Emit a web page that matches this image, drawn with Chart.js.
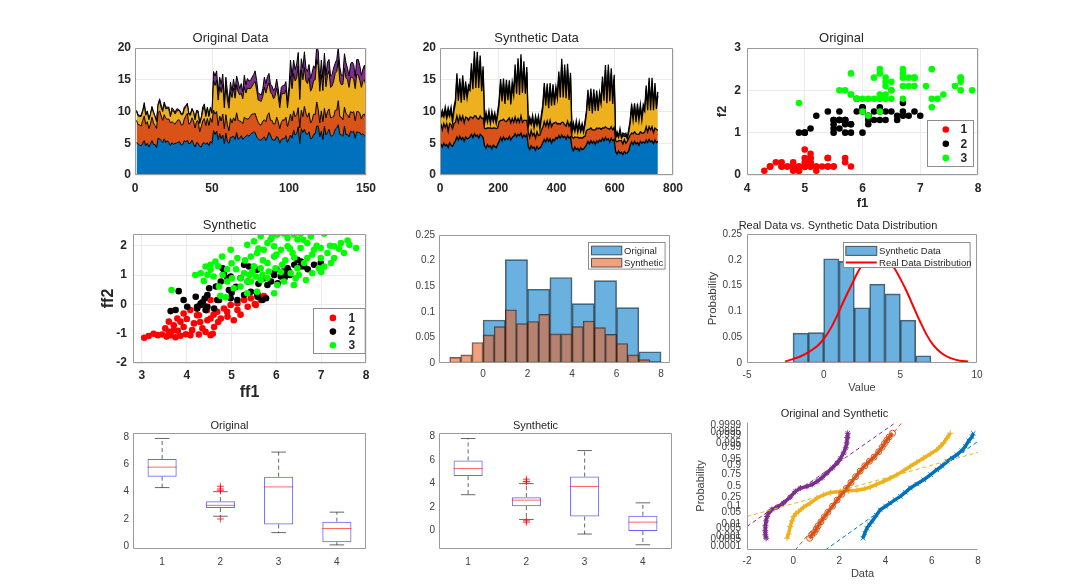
<!DOCTYPE html>
<html>
<head>
<meta charset="utf-8">
<script src="https://cdn.jsdelivr.net/npm/chart.js@4.4.1/dist/chart.umd.min.js"></script>
<style>
  html, body { margin: 0; padding: 0; background: #fff; }
  body { width: 1080px; height: 588px; position: relative; overflow: hidden; }
  canvas { position: absolute; }
</style>
</head>
<body>
<script>
// ---------- original data (150 samples, 4 features) ----------
const irisSepalLength = [
  5.1,4.9,4.7,4.6,5.0,5.4,4.6,5.0,4.4,4.9, 5.4,4.8,4.8,4.3,5.8,5.7,5.4,5.1,5.7,5.1,
  5.4,5.1,4.6,5.1,4.8,5.0,5.0,5.2,5.2,4.7, 4.8,5.4,5.2,5.5,4.9,5.0,5.5,4.9,4.4,5.1,
  5.0,4.5,4.4,5.0,5.1,4.8,5.1,4.6,5.3,5.0, 7.0,6.4,6.9,5.5,6.5,5.7,6.3,4.9,6.6,5.2,
  5.0,5.9,6.0,6.1,5.6,6.7,5.6,5.8,6.2,5.6, 5.9,6.1,6.3,6.1,6.4,6.6,6.8,6.7,6.0,5.7,
  5.5,5.5,5.8,6.0,5.4,6.0,6.7,6.3,5.6,5.5, 5.5,6.1,5.8,5.0,5.6,5.7,5.7,6.2,5.1,5.7,
  6.3,5.8,7.1,6.3,6.5,7.6,4.9,7.3,6.7,7.2, 6.5,6.4,6.8,5.7,5.8,6.4,6.5,7.7,7.7,6.0,
  6.9,5.6,7.7,6.3,6.7,7.2,6.2,6.1,6.4,7.2, 7.4,7.9,6.4,6.3,6.1,7.7,6.3,6.4,6.0,6.9,
  6.7,6.9,5.8,6.8,6.7,6.7,6.3,6.5,6.2,5.9];
const irisSepalWidth = [
  3.5,3.0,3.2,3.1,3.6,3.9,3.4,3.4,2.9,3.1, 3.7,3.4,3.0,3.0,4.0,4.4,3.9,3.5,3.8,3.8,
  3.4,3.7,3.6,3.3,3.4,3.0,3.4,3.5,3.4,3.2, 3.1,3.4,4.1,4.2,3.1,3.2,3.5,3.6,3.0,3.4,
  3.5,2.3,3.2,3.5,3.8,3.0,3.8,3.2,3.7,3.3, 3.2,3.2,3.1,2.3,2.8,2.8,3.3,2.4,2.9,2.7,
  2.0,3.0,2.2,2.9,2.9,3.1,3.0,2.7,2.2,2.5, 3.2,2.8,2.5,2.8,2.9,3.0,2.8,3.0,2.9,2.6,
  2.4,2.4,2.7,2.7,3.0,3.4,3.1,2.3,3.0,2.5, 2.6,3.0,2.6,2.3,2.7,3.0,2.9,2.9,2.5,2.8,
  3.3,2.7,3.0,2.9,3.0,3.0,2.5,2.9,2.5,3.6, 3.2,2.7,3.0,2.5,2.8,3.2,3.0,3.8,2.6,2.2,
  3.2,2.8,2.8,2.7,3.3,3.2,2.8,3.0,2.8,3.0, 2.8,3.8,2.8,2.8,2.6,3.0,3.4,3.1,3.0,3.1,
  3.1,3.1,2.7,3.2,3.3,3.0,2.5,3.0,3.4,3.0];
const irisPetalLength = [
  1.4,1.4,1.3,1.5,1.4,1.7,1.4,1.5,1.4,1.5, 1.5,1.6,1.4,1.1,1.2,1.5,1.3,1.4,1.7,1.5,
  1.7,1.5,1.0,1.7,1.9,1.6,1.6,1.5,1.4,1.6, 1.6,1.5,1.5,1.4,1.5,1.2,1.3,1.4,1.3,1.5,
  1.3,1.3,1.3,1.6,1.9,1.4,1.6,1.4,1.5,1.4, 4.7,4.5,4.9,4.0,4.6,4.5,4.7,3.3,4.6,3.9,
  3.5,4.2,4.0,4.7,3.6,4.4,4.5,4.1,4.5,3.9, 4.8,4.0,4.9,4.7,4.3,4.4,4.8,5.0,4.5,3.5,
  3.8,3.7,3.9,5.1,4.5,4.5,4.7,4.4,4.1,4.0, 4.4,4.6,4.0,3.3,4.2,4.2,4.2,4.3,3.0,4.1,
  6.0,5.1,5.9,5.6,5.8,6.6,4.5,6.3,5.8,6.1, 5.1,5.3,5.5,5.0,5.1,5.3,5.5,6.7,6.9,5.0,
  5.7,4.9,6.7,4.9,5.7,6.0,4.8,4.9,5.6,5.8, 6.1,6.4,5.6,5.1,5.6,6.1,5.6,5.5,4.8,5.4,
  5.6,5.1,5.1,5.9,5.7,5.2,5.0,5.2,5.4,5.1];
const irisPetalWidth = [
  0.2,0.2,0.2,0.2,0.2,0.4,0.3,0.2,0.2,0.1, 0.2,0.2,0.1,0.1,0.2,0.4,0.4,0.3,0.3,0.3,
  0.2,0.4,0.2,0.5,0.2,0.2,0.4,0.2,0.2,0.2, 0.2,0.4,0.1,0.2,0.2,0.2,0.2,0.1,0.2,0.2,
  0.3,0.3,0.2,0.6,0.4,0.3,0.2,0.2,0.2,0.2, 1.4,1.5,1.5,1.3,1.5,1.3,1.6,1.0,1.3,1.4,
  1.0,1.5,1.0,1.4,1.3,1.4,1.5,1.0,1.5,1.1, 1.8,1.3,1.5,1.2,1.3,1.4,1.4,1.7,1.5,1.0,
  1.1,1.0,1.2,1.6,1.5,1.6,1.5,1.3,1.3,1.3, 1.2,1.4,1.2,1.0,1.3,1.2,1.3,1.3,1.1,1.3,
  2.5,1.9,2.1,1.8,2.2,2.1,1.7,1.8,1.8,2.5, 2.0,1.9,2.1,2.0,2.4,2.3,1.8,2.2,2.3,1.5,
  2.3,2.0,2.0,1.8,2.1,1.8,1.8,1.8,2.1,1.6, 1.9,2.0,2.2,1.5,1.4,2.3,2.4,1.8,1.8,2.1,
  2.4,2.3,1.9,2.3,2.5,2.3,1.9,2.0,2.3,1.8];

// ---------- synthetic data, read every 5th sample of 750 ----------
const synthStep = 5;
const synthBlue = [
  4.9,4.4,5.0,4.6,4.8,4.3,5.1,4.7,4.5,5.0, 5.4,6.0,5.5,6.1,5.6,5.9,5.3,6.0,5.7,5.8,
  6.0,6.4,5.9,6.5,6.1,6.3,5.8,6.4,6.2,5.9, 4.6,4.2,4.8,4.4,4.6,4.1,4.7,4.5,4.3,4.8,
  5.3,5.9,5.4,6.0,5.5,5.8,5.6,6.1,5.5,5.9, 6.1,6.5,6.0,6.4,6.2,6.6,5.9,6.3,6.0,6.4,
  4.5,4.0,4.6,4.2,4.4,3.9,4.5,4.1,4.3,4.6, 5.1,5.6,5.2,5.8,5.3,5.7,5.0,5.6,5.4,5.9,
  5.7,6.2,5.8,6.3,5.9,6.1,5.6,6.2,5.8,6.0, 4.3,3.8,4.4,4.0,4.2,3.8,4.3,4.0,4.1,4.4,
  4.8,5.3,4.9,5.4,5.0,5.3,4.8,5.4,5.1,5.5, 5.3,5.8,5.4,5.9,5.5,5.7,5.2,5.8,5.4,5.6,
  3.7,3.3,3.8,3.4,3.6,3.2,3.7,3.4,3.5,3.8, 4.7,5.2,4.8,5.3,4.9,5.1,4.7,5.3,5.0,5.2,
  5.0,5.5,5.1,5.6,5.2,5.4,4.9,5.5,5.1,5.3];
const synthOrange = [
  3.2,2.7,3.1,2.9,3.3,2.6,3.0,3.2,2.8,3.1, 2.9,3.3,2.8,3.2,3.0,3.4,2.9,3.1,3.3,2.8,
  3.1,2.7,3.0,2.8,3.2,2.6,3.0,2.9,2.7,3.1, 2.7,3.1,2.6,3.0,2.8,3.2,2.7,2.9,3.0,2.6,
  3.1,2.7,3.2,2.8,3.0,2.6,3.1,2.9,2.7,3.0, 2.2,2.6,2.3,2.5,2.1,2.7,2.4,2.3,2.6,2.2,
  2.3,1.9,2.4,2.0,2.2,1.9,2.3,2.1,2.0,2.4, 2.4,2.8,2.5,2.7,2.3,2.9,2.6,2.5,2.8,2.4,
  2.3,1.9,2.2,2.0,2.4,1.8,2.1,2.3,1.9,2.2, 1.7,2.0,1.6,1.9,1.8,2.0,1.6,1.8,1.9,1.7,
  2.2,1.9,2.3,2.0,2.1,1.8,2.3,2.0,2.2,1.9, 1.9,1.6,2.0,1.7,1.9,1.6,2.0,1.8,1.7,1.9,
  1.7,1.9,1.6,2.0,1.8,1.7,1.9,1.6,1.8,2.0, 1.6,1.4,1.7,1.5,1.6,1.3,1.7,1.5,1.6,1.4,
  1.8,2.1,1.7,2.0,1.9,2.2,1.8,1.9,2.1,1.7];
const synthYellow = [
  0.9,2.4,1.0,2.6,0.8,2.9,1.1,2.2,1.0,2.0, 3.0,5.9,3.4,5.2,2.8,5.6,3.6,4.9,3.1,5.0,
  4.2,7.6,4.6,9.2,4.4,9.6,4.9,8.7,4.3,7.4, 0.8,2.0,0.9,2.2,0.7,2.1,1.0,1.9,0.8,2.0,
  2.8,5.8,3.0,5.6,2.7,5.9,3.1,5.3,2.9,5.0, 4.2,7.4,4.5,8.6,4.3,8.9,4.6,8.4,4.2,7.6,
  0.8,2.6,0.9,2.7,0.8,2.9,1.0,2.6,0.9,2.0, 3.0,5.4,3.2,5.3,2.9,5.2,3.3,5.6,2.8,5.0,
  4.0,7.4,4.2,9.1,3.9,8.7,4.4,8.2,4.1,7.2, 0.7,1.9,0.8,2.1,0.7,2.0,0.9,1.8,0.7,1.9,
  2.7,5.5,2.9,5.6,2.6,5.7,3.0,5.3,2.8,5.0, 4.0,7.3,4.3,8.9,3.9,9.2,4.4,8.4,4.1,7.6,
  0.4,1.2,0.5,1.4,0.4,1.3,0.5,1.2,0.4,1.0, 1.9,4.0,2.1,4.0,1.8,4.2,2.2,3.8,2.0,3.9,
  3.2,5.8,3.4,7.0,3.1,6.9,3.5,6.4,3.2,5.5];
const synthPurple = [
  0.4,0.7,0.3,0.6,0.5,0.8,0.4,0.6,0.3,0.7, 0.5,0.8,0.4,0.7,0.6,0.8,0.5,0.7,0.4,0.6,
  0.6,0.9,0.5,1.0,0.7,0.9,0.6,0.8,0.5,0.7, 0.3,0.6,0.4,0.5,0.3,0.6,0.4,0.5,0.3,0.6,
  0.5,0.7,0.4,0.8,0.5,0.7,0.4,0.6,0.5,0.7, 0.6,0.9,0.5,0.9,0.7,0.8,0.6,0.9,0.5,0.8,
  0.3,0.6,0.4,0.5,0.3,0.6,0.4,0.5,0.3,0.5, 0.5,0.7,0.4,0.6,0.5,0.7,0.4,0.6,0.5,0.6,
  0.6,0.8,0.5,0.9,0.6,0.8,0.5,0.8,0.6,0.7, 0.3,0.5,0.3,0.5,0.3,0.6,0.3,0.5,0.3,0.5,
  0.4,0.7,0.4,0.6,0.5,0.7,0.4,0.6,0.4,0.6, 0.6,0.8,0.5,0.8,0.6,0.9,0.5,0.8,0.6,0.7,
  0.2,0.4,0.2,0.5,0.2,0.4,0.3,0.4,0.2,0.4, 0.4,0.6,0.3,0.5,0.4,0.6,0.3,0.5,0.4,0.6,
  0.5,0.7,0.4,0.7,0.5,0.8,0.4,0.7,0.5,0.6];

// ---------- synthetic scatter (ff1, ff2) per class ----------
const synthClass1 = [[3.05,-1.14],[3.15,-1.08],[3.26,-1.0],[3.35,-1.05],[3.45,-1.03],[3.52,-0.82],[3.55,-1.1],[3.6,-0.94],[3.6,-0.59],[3.64,-1.05],[3.71,-0.71],[3.71,-0.88],[3.75,-1.12],[3.79,-0.48],[3.86,-1.07],[3.86,-0.59],[3.93,-0.31],[3.93,-0.77],[3.98,-1.02],[4.08,-0.19],[4.08,-1.05],[4.12,-0.88],[4.16,-0.65],[4.23,-0.14],[4.23,-0.37],[4.27,-1.03],[4.27,-0.37],[4.35,-0.82],[4.38,-0.02],[4.42,-0.94],[4.46,-0.54],[4.53,0.15],[4.53,-0.48],[4.53,-1.05],[4.58,-1.0],[4.61,-0.77],[4.68,-0.25],[4.76,-0.48],[4.83,-0.14],[4.91,-0.42],[4.98,-0.02],[5.05,-0.54],[5.13,0.03],[5.13,-0.19],[5.28,0.15],[5.36,-0.08],[5.43,0.21],[5.52,0.01],[5.54,-0.02],[5.58,0.32],[5.65,0.15],[5.72,0.28],[4.45,-0.2],[4.7,-0.6],[4.0,-0.5],[3.8,-0.9],[4.3,-0.6],[4.9,-0.25],[5.2,-0.35],[4.6,-0.35]];
const synthClass2 = [[3.64,-0.23],[3.75,-0.19],[3.82,0.45],[3.93,0.15],[4.01,-0.08],[4.2,0.26],[4.23,-0.14],[4.23,-0.08],[4.31,0.03],[4.31,-0.02],[4.35,0.07],[4.42,-0.19],[4.46,-0.08],[4.46,0.32],[4.5,0.55],[4.61,-0.14],[4.65,0.61],[4.68,0.15],[4.72,0.15],[4.76,0.78],[4.8,1.23],[4.83,1.06],[4.91,0.89],[4.94,0.49],[4.98,0.21],[4.98,0.95],[5.13,0.15],[5.28,0.32],[5.28,1.35],[5.36,0.78],[5.39,1.29],[5.43,0.43],[5.57,0.38],[5.57,1.18],[5.58,0.26],[5.69,0.15],[5.73,0.89],[5.77,0.21],[5.8,0.66],[5.88,0.78],[5.94,1.06],[5.95,1.0],[6.03,0.72],[6.1,0.95],[6.14,1.12],[6.18,0.89],[6.21,1.0],[6.25,1.23],[6.28,1.12],[6.4,1.35],[6.47,1.52],[6.54,1.29],[6.55,1.46],[6.62,1.29],[6.84,1.35],[6.99,1.41],[5.1,0.6],[5.6,0.7],[6.3,1.0],[4.4,0.2],[5.0,0.4],[6.0,1.2],[6.7,1.2],[5.2,0.9]];
const synthClass3 = [[3.66,0.49],[4.19,1.0],[4.31,1.06],[4.38,0.8],[4.42,1.29],[4.46,1.01],[4.53,1.18],[4.53,1.35],[4.6,0.95],[4.64,1.46],[4.72,0.61],[4.75,0.29],[4.79,1.63],[4.87,0.24],[4.9,0.78],[4.98,1.86],[5.01,0.89],[5.05,0.55],[5.13,1.58],[5.2,0.61],[5.2,0.89],[5.28,1.06],[5.35,2.03],[5.35,0.78],[5.35,0.38],[5.43,0.78],[5.43,1.63],[5.46,1.12],[5.5,2.15],[5.54,0.95],[5.57,1.75],[5.57,0.43],[5.65,2.32],[5.65,0.83],[5.65,1.23],[5.69,1.01],[5.72,1.86],[5.8,1.41],[5.8,2.09],[5.83,1.12],[5.87,2.21],[5.95,0.38],[5.95,1.63],[5.95,1.98],[5.98,1.23],[6.02,2.38],[6.02,0.66],[6.1,1.86],[6.13,1.35],[6.17,2.41],[6.17,0.78],[6.25,1.98],[6.25,2.26],[6.32,1.06],[6.36,1.75],[6.39,2.38],[6.39,0.66],[6.43,0.89],[6.47,1.23],[6.47,2.21],[6.54,1.92],[6.54,2.41],[6.62,1.41],[6.66,0.83],[6.69,2.09],[6.69,1.58],[6.77,2.32],[6.8,1.06],[6.84,1.86],[6.95,1.23],[6.99,1.58],[6.99,1.92],[7.07,2.41],[7.07,1.29],[7.14,1.75],[7.22,1.41],[7.29,1.98],[7.29,1.58],[7.44,2.09],[7.51,1.75],[7.59,2.18],[7.63,2.03],[7.78,1.92],[5.7,1.5],[6.0,1.7],[6.2,1.5],[5.9,2.3],[6.6,2.2],[6.3,1.9],[5.5,1.3],[5.1,1.2],[4.8,1.0],[6.9,2.0],[7.2,2.0],[6.4,1.6],[5.6,1.9],[5.3,1.5],[5.0,1.4],[6.8,1.7],[7.4,1.9],[6.1,1.1],[5.8,0.9],[5.4,1.0],[4.9,1.2],[4.7,1.3],[6.5,1.0],[7.0,1.1]];

// ---------- histograms ----------
const histOrigCenters = [0.5,1.5,2.5,3.5,4.5,5.5,6.5,7.5];
const histOrigProb = [0.084,0.202,0.144,0.167,0.116,0.161,0.108,0.022];
const histSynthCenters = [-1.25,-0.75,-0.25,0.25,0.75,1.25,1.75,2.25,2.75,3.25,3.75,4.25,4.75,5.25,5.75,6.25,6.75,7.25,7.75];
const histSynthProb = [0.011,0.016,0.04,0.055,0.071,0.104,0.077,0.081,0.095,0.057,0.057,0.071,0.082,0.069,0.056,0.038,0.016,0.0065,0.0026];
const distCenters = [-1.5,-0.5,0.5,1.5,2.5,3.5,4.5,5.5,6.5];
const distProb = [0.058,0.059,0.202,0.197,0.107,0.153,0.134,0.083,0.014];
const realDistX = [-2.51,-1.97,-1.42,-0.88,-0.34,0.09,0.53,0.96,1.4,1.83,2.26,2.7,3.1,3.5,3.9,4.2,4.54,4.97,5.41,5.84,6.28,6.71,7.14,7.69,8.23,8.88,9.42];
const realDistY = [0.003,0.008,0.014,0.023,0.035,0.05,0.071,0.097,0.126,0.152,0.178,0.198,0.206,0.208,0.205,0.198,0.187,0.165,0.139,0.11,0.081,0.055,0.035,0.019,0.01,0.0045,0.003];

// ---------- box plots ----------
const boxCats = ['1','2','3','4'];
const origBoxLo  = [4.3, 2.2, 1.0, 0.1];
const origBoxQ1  = [5.1, 2.8, 1.6, 0.3];
const origBoxMed = [5.8, 3.0, 4.35, 1.3];
const origBoxQ3  = [6.4, 3.3, 5.1, 1.8];
const origBoxHi  = [7.9, 4.0, 6.9, 2.5];
const origBoxOut = [['2',4.4],['2',4.2],['2',4.1],['2',2.0]];
const synthBoxLo  = [3.06, 0.96, -0.28, -1.19];
const synthBoxQ1  = [4.64, 2.09, 1.21, -0.03];
const synthBoxMed = [5.28, 2.6, 3.76, 0.73];
const synthBoxQ3  = [5.97, 2.85, 4.6, 1.27];
const synthBoxHi  = [7.83, 4.0, 6.81, 2.37];
const synthBoxOut = [['2',4.38],['2',4.2],['2',4.15],['2',0.73],['2',0.85]];

// ---------- normal probability plot (x, normal quantile) ----------
const probTickZ = [-3.719,-3.291,-3.090,-2.576,-2.326,-1.645,-1.282,-0.674,0,0.674,1.282,1.645,2.326,2.576,3.090,3.291,3.719];
const probTickLabels = ['0.0001','0.0005','0.001','0.005','0.01','0.05','0.1','0.25','0.5','0.75','0.9','0.95','0.99','0.995','0.999','0.9995','0.9999'];
const qqPurple = [[-1.17,-3.21],[-1.2,-3.0],[-1.21,-2.75],[-1.2,-2.45],[-1.17,-2.15],[-1.13,-1.88],[-1.05,-1.62],[-0.92,-1.45],[-0.7,-1.31],[-0.42,-1.06],[-0.13,-0.69],[0.09,-0.35],[0.31,-0.14],[0.6,-0.04],[0.82,0.08],[1.03,0.26],[1.25,0.5],[1.46,0.78],[1.7,1.1],[1.9,1.39],[2.05,1.68],[2.18,2.01],[2.27,2.32],[2.32,2.62],[2.34,2.95],[2.36,3.21]];
const qqOrange = [[0.71,-3.21],[0.8,-3.0],[0.92,-2.85],[1.0,-2.65],[1.08,-2.45],[1.2,-2.2],[1.35,-1.9],[1.5,-1.62],[1.7,-1.25],[1.9,-0.88],[2.1,-0.52],[2.3,-0.16],[2.5,0.2],[2.7,0.55],[2.9,0.9],[3.1,1.22],[3.3,1.5],[3.5,1.75],[3.7,2.08],[3.85,2.35],[3.95,2.58],[4.05,2.8],[4.15,2.98],[4.3,3.21]];
const qqYellow = [[-0.27,-3.21],[-0.2,-2.95],[-0.13,-2.5],[-0.05,-2.15],[0.02,-1.88],[0.12,-1.7],[0.23,-1.58],[0.45,-1.31],[0.74,-1.06],[1.03,-0.75],[1.32,-0.55],[1.61,-0.41],[2.04,-0.35],[2.4,-0.31],[2.76,-0.27],[3.1,-0.18],[3.34,-0.08],[3.6,0.08],[3.92,0.27],[4.2,0.47],[4.49,0.67],[4.8,0.94],[5.07,1.19],[5.35,1.44],[5.65,1.7],[5.95,1.96],[6.22,2.21],[6.4,2.45],[6.51,2.62],[6.65,2.9],[6.8,3.21]];
const qqBlue = [[3.02,-3.21],[3.1,-2.9],[3.19,-2.6],[3.3,-2.38],[3.41,-2.19],[3.6,-1.8],[3.77,-1.47],[4.0,-1.25],[4.2,-1.06],[4.42,-0.85],[4.64,-0.65],[4.85,-0.4],[5.07,-0.14],[5.35,0.1],[5.65,0.37],[5.95,0.68],[6.22,0.98],[6.45,1.22],[6.66,1.49],[6.88,1.7],[7.09,1.9],[7.3,2.15],[7.45,2.41],[7.6,2.75],[7.74,3.0],[7.8,3.21]];
const refPurple = [[-2,-2.49],[4.47,3.9]];
const refOrange = [[0.09,-3.93],[4.73,3.9]];
const refYellow = [[-2,-1.88],[8,2.04]];
const refBlue = [[1.39,-3.93],[8,2.72]];

// ---------- styling ----------
const C_BLUE = '#0072BD', C_ORANGE = '#D95319', C_YELLOW = '#EDB120', C_PURPLE = '#7E2F8E';
const TXT_TOP = '#262626', TXT_LOW = '#404040', FRAME = '#9a9a9a', GRID = '#ebebeb', LEG_EDGE = '#8c8c8c';
const HIST_BLUE = 'rgba(0,120,200,0.58)', HIST_ORANGE = 'rgba(232,98,40,0.6)', HIST_EDGE = 'rgba(30,30,30,0.7)';

Chart.defaults.font.family = '"Liberation Sans", Arial, Helvetica, sans-serif';
Chart.defaults.animation = false;
Chart.defaults.responsive = false;
Chart.defaults.events = [];
Chart.defaults.plugins.legend.display = false;
Chart.defaults.plugins.tooltip.enabled = false;

const BOLD12 = { size: 12, weight: 'bold' };
const LOW10 = { size: 10, weight: 'normal' };
const plainNum = (v) => String(+v.toFixed(4));

function mountChart(box, pad, config) {
  const cv = document.createElement('canvas');
  const w = box.r - box.l + pad.l + pad.r, h = box.b - box.t + pad.t + pad.b;
  cv.width = w; cv.height = h;
  cv.style.left = (box.l - pad.l) + 'px';
  cv.style.top = (box.t - pad.t) + 'px';
  cv.style.width = w + 'px'; cv.style.height = h + 'px';
  document.body.appendChild(cv);
  const hasTitle = config.options.plugins && config.options.plugins.title;
  config.options.layout = { padding: { left: 0, right: pad.r, top: hasTitle ? 0 : pad.t, bottom: 0 } };
  return new Chart(cv, config);
}

function chartTitle(text, size, centerY, box, pad) {
  const top = centerY - (box.t - pad.t) - 0.6 * size;
  return { display: true, text: text, color: TXT_TOP, font: { size: size, weight: 'normal' },
           padding: { top: top, bottom: pad.t - 1.2 * size - top } };
}

function xAxis(p) {
  const s = {
    type: p.type || 'linear', offset: !!p.offset,
    grid: { display: !!p.grid, color: GRID, drawTicks: false, offset: false },
    border: { display: false },
    ticks: { includeBounds: false, autoSkip: false, maxRotation: 0, color: p.color, font: p.font,
             padding: p.tickCenter - p.box.b - 0.6 * p.font.size },
    afterFit: (sc) => { sc.height = p.pad.b; }
  };
  if (p.min !== undefined) s.min = p.min;
  if (p.max !== undefined) s.max = p.max;
  if (p.step !== undefined) s.ticks.stepSize = p.step;
  if (p.labels) s.labels = p.labels;
  if (p.ticks) s.afterBuildTicks = (sc) => { sc.ticks = p.ticks.map(v => ({ value: v })); };
  if (p.title) {
    s.title = { display: true, text: p.title, color: p.titleColor || p.color, font: p.titleFont,
                padding: { top: 0, bottom: (p.box.b + p.pad.b) - p.titleCenter - 0.6 * p.titleFont.size } };
  }
  return s;
}

function yAxis(p) {
  const s = {
    type: 'linear', min: p.min, max: p.max, stacked: !!p.stacked,
    grid: { display: !!p.grid, color: GRID, drawTicks: false },
    border: { display: false },
    ticks: { includeBounds: false, autoSkip: false, color: p.color, font: p.font, padding: p.tickPad },
    afterFit: (sc) => { sc.width = p.pad.l; }
  };
  if (p.step !== undefined) s.ticks.stepSize = p.step;
  if (p.ticks) s.afterBuildTicks = (sc) => { sc.ticks = p.ticks.map(v => ({ value: v })); };
  if (p.labels) s.ticks.callback = (v, i) => p.labels[i];
  else if (p.plain) s.ticks.callback = plainNum;
  if (p.title) {
    s.title = { display: true, text: p.title, color: p.titleColor || p.color, font: p.titleFont,
                padding: { top: p.titleCenter - (p.box.l - p.pad.l) - 0.6 * p.titleFont.size, bottom: 0 } };
  }
  return s;
}

function framePlugin(sides) {
  return {
    id: 'frame',
    afterDatasetsDraw(chart) {
      const a = chart.chartArea, ctx = chart.ctx;
      const l = Math.round(a.left) + 0.5, t = Math.round(a.top) + 0.5;
      const r = Math.round(a.right) - 0.5, b = Math.round(a.bottom) - 0.5;
      ctx.save();
      ctx.strokeStyle = FRAME; ctx.lineWidth = 1;
      ctx.beginPath();
      if (sides === 'box') ctx.rect(l, t, r - l, b - t);
      else { ctx.moveTo(l, t); ctx.lineTo(l, b); ctx.lineTo(r, b); }
      ctx.stroke();
      ctx.restore();
    }
  };
}

function legendPlugin(spec) {
  return {
    id: 'insetLegend',
    afterDatasetsDraw(chart) {
      const a = chart.chartArea, ctx = chart.ctx;
      const x0 = Math.round(a.left + spec.x) + 0.5, y0 = Math.round(a.top + spec.y) + 0.5;
      ctx.save();
      ctx.fillStyle = '#fff';
      ctx.fillRect(x0, y0, spec.w, spec.h);
      ctx.strokeStyle = LEG_EDGE; ctx.lineWidth = 1;
      ctx.strokeRect(x0, y0, spec.w, spec.h);
      ctx.font = spec.font; ctx.textBaseline = 'middle'; ctx.textAlign = 'left';
      spec.items.forEach((it, i) => {
        const y = y0 + spec.row0 + i * spec.rowGap;
        if (it.kind === 'dot') {
          ctx.beginPath(); ctx.arc(x0 + spec.markX, y, 3.3, 0, Math.PI * 2);
          ctx.fillStyle = it.color; ctx.fill();
        } else if (it.kind === 'patch') {
          ctx.fillStyle = it.color;
          ctx.fillRect(x0 + spec.markX, y - spec.patchH / 2, spec.patchW, spec.patchH);
          ctx.strokeStyle = HIST_EDGE; ctx.lineWidth = 1;
          ctx.strokeRect(x0 + spec.markX, y - spec.patchH / 2, spec.patchW, spec.patchH);
        } else if (it.kind === 'line') {
          ctx.strokeStyle = it.color; ctx.lineWidth = 2;
          ctx.beginPath(); ctx.moveTo(x0 + spec.markX, y); ctx.lineTo(x0 + spec.markX + spec.patchW, y); ctx.stroke();
          ctx.lineWidth = 1;
        }
        ctx.fillStyle = spec.color;
        ctx.fillText(it.text, x0 + spec.textX, y + 0.5);
      });
      ctx.restore();
    }
  };
}

function stackedSets(xs, layers, lineWidth) {
  const fills = [C_BLUE, C_ORANGE, C_YELLOW, C_PURPLE];
  return layers.map((arr, k) => ({
    data: arr.map((v, i) => ({ x: xs[i], y: v })),
    backgroundColor: fills[k], borderColor: '#000', borderWidth: lineWidth,
    pointRadius: 0, tension: 0, fill: k === 0 ? 'origin' : '-1'
  }));
}

function pts(pairs) { return pairs.map(p => ({ x: p[0], y: p[1] })); }

// ---------- layout boxes (plot areas, page px) ----------
const B1 = { l: 135, t: 48, r: 366, b: 175 }, P1 = { l: 40, t: 40, r: 22, b: 30 };
const B2 = { l: 440, t: 48, r: 673, b: 175 }, P2 = { l: 40, t: 40, r: 22, b: 30 };
const B3 = { l: 747, t: 48, r: 978, b: 175 }, P3 = { l: 42, t: 40, r: 22, b: 40 };
const B4 = { l: 133, t: 234, r: 366, b: 363 }, P4 = { l: 40, t: 40, r: 22, b: 44 };
const B5 = { l: 439, t: 235, r: 670, b: 363 }, P5 = { l: 40, t: 20, r: 22, b: 30 };
const B6 = { l: 747, t: 234, r: 977, b: 363 }, P6 = { l: 48, t: 40, r: 22, b: 36 };
const B7 = { l: 133, t: 433, r: 366, b: 549 }, P7 = { l: 40, t: 30, r: 22, b: 30 };
const B8 = { l: 439, t: 433, r: 672, b: 549 }, P8 = { l: 40, t: 30, r: 22, b: 30 };
const B9 = { l: 747, t: 422, r: 978, b: 550 }, P9 = { l: 56, t: 30, r: 22, b: 38 };

// 1. Original Data (stacked area)
mountChart(B1, P1, {
  type: 'line',
  data: { datasets: stackedSets(irisSepalLength.map((v, i) => i + 1),
                                [irisSepalLength, irisSepalWidth, irisPetalLength, irisPetalWidth], 1) },
  options: {
    plugins: { title: chartTitle('Original Data', 13, 38.3, B1, P1) },
    scales: {
      x: xAxis({ min: 0, max: 150, step: 50, grid: true, color: TXT_TOP, font: BOLD12, tickCenter: 188.3, box: B1, pad: P1 }),
      y: yAxis({ min: 0, max: 20, step: 5, stacked: true, grid: true, color: TXT_TOP, font: BOLD12, tickPad: 4, box: B1, pad: P1 })
    }
  },
  plugins: [framePlugin('box')]
});

// 2. Synthetic Data (stacked area)
mountChart(B2, P2, {
  type: 'line',
  data: { datasets: stackedSets(synthBlue.map((v, i) => 3 + i * synthStep),
                                [synthBlue, synthOrange, synthYellow, synthPurple], 1.3) },
  options: {
    plugins: { title: chartTitle('Synthetic Data', 13, 38.3, B2, P2) },
    scales: {
      x: xAxis({ min: 0, max: 800, step: 200, grid: true, color: TXT_TOP, font: BOLD12, tickCenter: 188.3, box: B2, pad: P2 }),
      y: yAxis({ min: 0, max: 20, step: 5, stacked: true, grid: true, color: TXT_TOP, font: BOLD12, tickPad: 4, box: B2, pad: P2 })
    }
  },
  plugins: [framePlugin('box')]
});

// 3. Original scatter f1 vs f2
const classColors = ['#ff0000', '#000000', '#00ff00'];
mountChart(B3, P3, {
  type: 'scatter',
  data: {
    datasets: [0, 1, 2].map(k => ({
      data: irisSepalLength.slice(k * 50, k * 50 + 50).map((v, i) => ({ x: v, y: irisPetalWidth[k * 50 + i] })),
      backgroundColor: classColors[k], pointBackgroundColor: classColors[k],
      pointBorderWidth: 0, pointRadius: 3.3, order: 3 - k
    }))
  },
  options: {
    plugins: { title: chartTitle('Original', 13, 38.3, B3, P3) },
    scales: {
      x: xAxis({ min: 4, max: 8, step: 1, grid: true, color: TXT_TOP, font: BOLD12, tickCenter: 189, box: B3, pad: P3,
                 title: 'f1', titleFont: { size: 13, weight: 'bold' }, titleCenter: 203.5 }),
      y: yAxis({ min: 0, max: 3, step: 1, grid: true, color: TXT_TOP, font: BOLD12, tickPad: 6, box: B3, pad: P3,
                 title: 'f2', titleFont: { size: 13, weight: 'bold' }, titleCenter: 722.3 })
    }
  },
  plugins: [framePlugin('box'), legendPlugin({
    x: 179.7, y: 72, w: 46, h: 46, row0: 9, rowGap: 14.2, markX: 18.3, textX: 33,
    font: 'bold 12px "Liberation Sans", Arial, sans-serif', color: TXT_TOP,
    items: [{ kind: 'dot', color: classColors[0], text: '1' }, { kind: 'dot', color: classColors[1], text: '2' },
            { kind: 'dot', color: classColors[2], text: '3' }]
  })]
});

// 4. Synthetic scatter ff1 vs ff2
mountChart(B4, P4, {
  type: 'scatter',
  data: {
    datasets: [synthClass1, synthClass2, synthClass3].map((arr, k) => ({
      data: pts(arr), backgroundColor: classColors[k], pointBackgroundColor: classColors[k],
      pointBorderWidth: 0, pointRadius: 3.3, order: 3 - k
    }))
  },
  options: {
    plugins: { title: chartTitle('Synthetic', 13, 225, B4, P4) },
    scales: {
      x: xAxis({ min: 2.8, max: 8, step: 1, grid: true, color: TXT_TOP, font: BOLD12, tickCenter: 375.7, box: B4, pad: P4,
                 title: 'ff1', titleFont: { size: 16, weight: 'bold' }, titleCenter: 392.7 }),
      y: yAxis({ min: -2, max: 2.4, step: 1, grid: true, color: TXT_TOP, font: BOLD12, tickPad: 6, box: B4, pad: P4,
                 title: 'ff2', titleFont: { size: 16, weight: 'bold' }, titleCenter: 108.3 })
    }
  },
  plugins: [framePlugin('box'), legendPlugin({
    x: 180.3, y: 74.3, w: 51.7, h: 45, row0: 9.4, rowGap: 13.7, markX: 19.4, textX: 35,
    font: 'bold 12px "Liberation Sans", Arial, sans-serif', color: TXT_TOP,
    items: [{ kind: 'dot', color: classColors[0], text: '1' }, { kind: 'dot', color: classColors[1], text: '2' },
            { kind: 'dot', color: classColors[2], text: '3' }]
  })]
});

// 5. Histogram Original vs Synthetic
mountChart(B5, P5, {
  type: 'bar',
  data: {
    datasets: [
      { data: histOrigCenters.map((c, i) => ({ x: c, y: histOrigProb[i] })), xAxisID: 'x',
        backgroundColor: HIST_BLUE, borderColor: HIST_EDGE, borderWidth: 1, borderSkipped: false,
        barPercentage: 1, categoryPercentage: 1, grouped: false, order: 2 },
      { data: histSynthCenters.map((c, i) => ({ x: c, y: histSynthProb[i] })), xAxisID: 'x2',
        backgroundColor: HIST_ORANGE, borderColor: HIST_EDGE, borderWidth: 1, borderSkipped: false,
        barPercentage: 1, categoryPercentage: 1, grouped: false, order: 1 }
    ]
  },
  options: {
    scales: {
      x: xAxis({ min: -1.98, max: 8.4, ticks: [0, 2, 4, 6, 8], color: TXT_LOW, font: LOW10, tickCenter: 374, box: B5, pad: P5 }),
      x2: { type: 'linear', display: false, min: -1.98, max: 8.4, offset: false, ticks: { stepSize: 1, includeBounds: false } },
      y: yAxis({ min: 0, max: 0.25, step: 0.05, plain: true, color: TXT_LOW, font: LOW10, tickPad: 4, box: B5, pad: P5 })
    }
  },
  plugins: [framePlugin('box'), legendPlugin({
    x: 148.7, y: 6.7, w: 76.6, h: 26.6, row0: 8, rowGap: 12.2, markX: 3, patchW: 30.3, patchH: 8.7, textX: 35.6,
    font: '9.5px "Liberation Sans", Arial, sans-serif', color: TXT_TOP,
    items: [{ kind: 'patch', color: HIST_BLUE, text: 'Original' }, { kind: 'patch', color: HIST_ORANGE, text: 'Synthetic' }]
  })]
});

// 6. Real vs synthetic distribution
mountChart(B6, P6, {
  type: 'bar',
  data: {
    datasets: [
      { type: 'line', data: realDistX.map((x, i) => ({ x: x, y: realDistY[i] })), borderColor: '#ff0000',
        borderWidth: 2, pointRadius: 0, cubicInterpolationMode: 'monotone', fill: false, order: 0 },
      { data: distCenters.map((c, i) => ({ x: c, y: distProb[i] })),
        backgroundColor: HIST_BLUE, borderColor: HIST_EDGE, borderWidth: 1, borderSkipped: false,
        barPercentage: 1, categoryPercentage: 1, grouped: false, order: 1 }
    ]
  },
  options: {
    plugins: { title: chartTitle('Real Data vs. Synthetic Data Distribution', 11, 226, B6, P6) },
    scales: {
      x: xAxis({ min: -5, max: 10, step: 5, color: TXT_LOW, font: LOW10, tickCenter: 375, box: B6, pad: P6,
                 title: 'Value', titleFont: { size: 11 }, titleCenter: 388.3 }),
      y: yAxis({ min: 0, max: 0.25, step: 0.05, plain: true, color: TXT_LOW, font: LOW10, tickPad: 5, box: B6, pad: P6,
                 title: 'Probability', titleFont: { size: 11.5 }, titleCenter: 712.7 })
    }
  },
  plugins: [framePlugin('box'), legendPlugin({
    x: 95.7, y: 8.3, w: 126.6, h: 25, row0: 8.4, rowGap: 11.6, markX: 2.3, patchW: 31, patchH: 9, textX: 35.6,
    font: '9.5px "Liberation Sans", Arial, sans-serif', color: TXT_TOP,
    items: [{ kind: 'patch', color: HIST_BLUE, text: 'Synthetic Data' }, { kind: 'line', color: '#ff0000', text: 'Real Data Distribution' }]
  })]
});

// 7/8. Box plots
function boxSets(lo, q1, med, q3, hi, out) {
  const whisk = [], caps = [];
  boxCats.forEach((c, i) => {
    whisk.push({ x: c, y: q3[i] }, { x: c, y: hi[i] }, { x: c, y: null },
               { x: c, y: q1[i] }, { x: c, y: lo[i] }, { x: c, y: null });
    caps.push({ x: c, y: hi[i] }, { x: c, y: lo[i] });
  });
  const halfBox = (ctx) => ctx.chart.chartArea ? (ctx.chart.chartArea.right - ctx.chart.chartArea.left) / 16 : 14;
  return [
    { type: 'line', data: whisk, borderColor: 'rgba(0,0,0,0.6)', borderWidth: 1, borderDash: [4, 3],
      pointRadius: 0, spanGaps: false, fill: false, order: 3 },
    { type: 'line', data: caps, showLine: false, pointStyle: 'line', pointBorderColor: 'rgba(0,0,0,0.6)',
      pointBorderWidth: 1, pointRadius: (ctx) => halfBox(ctx) / 2, order: 2 },
    { type: 'bar', data: q1.map((v, i) => [v, q3[i]]), backgroundColor: 'rgba(0,0,0,0)',
      borderColor: 'rgba(0,0,255,0.6)', borderWidth: 1, borderSkipped: false,
      barPercentage: 0.5, categoryPercentage: 1, order: 1 },
    { type: 'line', data: med.map((v, i) => ({ x: boxCats[i], y: v })), showLine: false, pointStyle: 'line',
      pointBorderColor: 'rgba(255,0,0,0.6)', pointBorderWidth: 1, pointRadius: halfBox, order: 0 },
    { type: 'line', data: out.map(o => ({ x: o[0], y: o[1] })), showLine: false, pointStyle: 'cross',
      pointBorderColor: 'rgba(255,0,0,0.75)', pointBorderWidth: 1, pointRadius: 3.5, order: 0 }
  ];
}

mountChart(B7, P7, {
  type: 'bar',
  data: { labels: boxCats, datasets: boxSets(origBoxLo, origBoxQ1, origBoxMed, origBoxQ3, origBoxHi, origBoxOut) },
  options: {
    plugins: { title: chartTitle('Original', 11, 426, B7, P7) },
    scales: {
      x: xAxis({ type: 'category', labels: boxCats, offset: true, color: TXT_LOW, font: LOW10, tickCenter: 562.3, box: B7, pad: P7 }),
      y: yAxis({ min: -0.2, max: 8.3, step: 2, color: TXT_LOW, font: LOW10, tickPad: 4, box: B7, pad: P7 })
    }
  },
  plugins: [framePlugin('box')]
});

mountChart(B8, P8, {
  type: 'bar',
  data: { labels: boxCats, datasets: boxSets(synthBoxLo, synthBoxQ1, synthBoxMed, synthBoxQ3, synthBoxHi, synthBoxOut) },
  options: {
    plugins: { title: chartTitle('Synthetic', 11, 426, B8, P8) },
    scales: {
      x: xAxis({ type: 'category', labels: boxCats, offset: true, color: TXT_LOW, font: LOW10, tickCenter: 562.3, box: B8, pad: P8 }),
      y: yAxis({ min: -1.55, max: 8.3, step: 2, color: TXT_LOW, font: LOW10, tickPad: 4, box: B8, pad: P8 })
    }
  },
  plugins: [framePlugin('box')]
});

// 9. Normal probability plot
function qqSet(pairs, color, style) {
  return { data: pts(pairs), showLine: true, borderColor: color, borderWidth: 3.5, pointStyle: style,
           pointRadius: 3, pointBorderColor: color, pointBackgroundColor: style === 'circle' ? 'rgba(0,0,0,0)' : color,
           pointBorderWidth: 1 };
}
function refSet(pairs, color) {
  return { data: pts(pairs), showLine: true, borderColor: color, borderWidth: 1, borderDash: [4, 3], pointRadius: 0 };
}
mountChart(B9, P9, {
  type: 'scatter',
  data: {
    datasets: [
      refSet(refBlue, C_BLUE), refSet(refOrange, C_ORANGE), refSet(refYellow, C_YELLOW), refSet(refPurple, C_PURPLE),
      qqSet(qqBlue, C_BLUE, 'crossRot'), qqSet(qqOrange, C_ORANGE, 'circle'),
      qqSet(qqYellow, C_YELLOW, 'cross'), qqSet(qqPurple, C_PURPLE, 'star')
    ]
  },
  options: {
    plugins: { title: chartTitle('Original and Synthetic', 11, 414, B9, P9) },
    scales: {
      x: xAxis({ min: -2, max: 8, step: 2, color: TXT_LOW, font: LOW10, tickCenter: 561.7, box: B9, pad: P9,
                 title: 'Data', titleFont: { size: 11 }, titleCenter: 574 }),
      y: yAxis({ min: -3.93, max: 3.9, ticks: probTickZ, labels: probTickLabels, color: TXT_LOW, font: LOW10,
                 tickPad: 6, box: B9, pad: P9, title: 'Probability', titleFont: { size: 11 }, titleCenter: 700.7 })
    }
  },
  plugins: [framePlugin('lb')]
});
</script>
</body>
</html>
